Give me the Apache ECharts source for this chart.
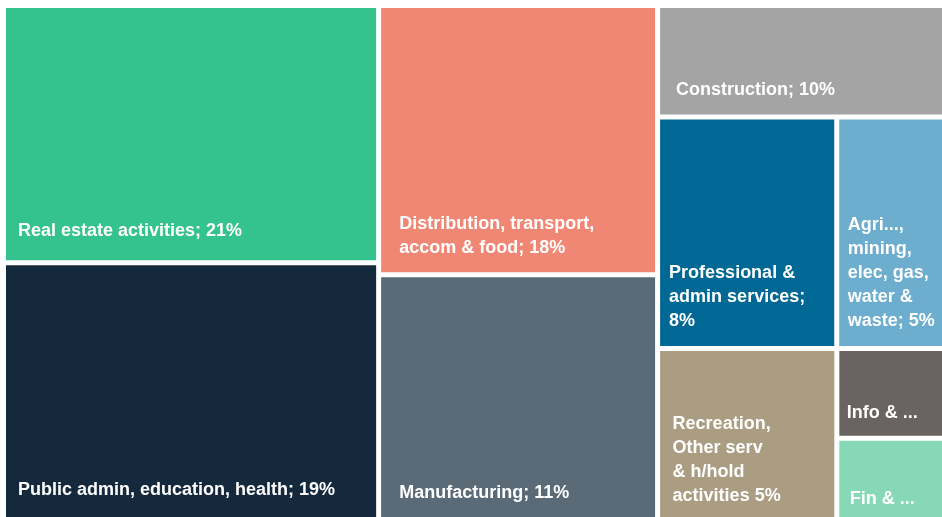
<!DOCTYPE html>
<html>
<head>
<meta charset="utf-8">
<script src="https://cdn.jsdelivr.net/npm/echarts@6/dist/echarts.min.js"></script>
<style>
  html, body { margin: 0; padding: 0; background: #ffffff; }
  #chart { width: 942px; height: 517px; }
</style>
</head>
<body>
<div id="chart"></div>
<script>
// ---- Data ----
const sectors = [
  'Real estate activities',
  'Public admin, education, health',
  'Distribution, transport, accom & food',
  'Manufacturing',
  'Construction',
  'Professional & admin services',
  'Agri..., mining, elec, gas, water & waste',
  'Recreation, Other serv & h/hold activities',
  'Info & ...',
  'Fin & ...'
];
// percentages printed in the labels
const shares = [21, 19, 18, 11, 10, 8, 5, 5, null, null];
// relative tile sizes (share of the drawn area, %)
const sizes = [19.89, 19.93, 15.48, 14.13, 6.62, 8.55, 5.19, 6.35, 2.01, 1.84];
// label text as printed ({v} = share)
const labelTexts = [
  'Real estate activities; {v}%',
  'Public admin, education, health; {v}%',
  'Distribution, transport,\naccom & food; {v}%',
  'Manufacturing; {v}%',
  'Construction; {v}%',
  'Professional &\nadmin services;\n{v}%',
  'Agri...,\nmining,\nelec, gas,\nwater &\nwaste; {v}%',
  'Recreation,\nOther serv\n& h/hold\nactivities {v}%',
  'Info & ...',
  'Fin & ...'
];
// tile grouping (block structure of the treemap), by sector index
const groups = [[0, 1], [2, 3], [4, [[5, 6], [7, 8, 9]]]];

// ---- Styles ----
const colors = ['#34C28F', '#15293D', '#F08774', '#5A6A77', '#A4A4A4',
                '#006895', '#6DADCE', '#AB9D82', '#696461', '#86D8B7'];
// label padding [top, right, bottom, left]
const labelPads = [
  [0, 4, 17.5, 12], [0, 4, 16, 12], [0, 4, 12, 18], [0, 4, 12.5, 18], [0, 4, 13, 16],
  [0, 4, 13, 9], [0, 2, 13, 8.5], [0, 4, 10, 12.5], [0, 2, 11.3, 7.5], [0, 2, 7, 10.5]
];

function leaf(i) {
  return {
    name: sectors[i],
    value: sizes[i],
    itemStyle: { color: colors[i] },
    label: {
      padding: labelPads[i],
      formatter: labelTexts[i].replace('{v}', shares[i])
    }
  };
}
function build(node) {
  if (typeof node === 'number') return leaf(node);
  return {
    name: '',
    children: node.map(build),
    itemStyle: { color: '#ffffff', borderColor: '#ffffff' },
    label: { show: false }
  };
}
const treeData = groups.map(build);

const chart = echarts.init(document.getElementById('chart'), null, { renderer: 'canvas' });
chart.setOption({
  animation: false,
  backgroundColor: '#ffffff',
  series: [{
    type: 'treemap',
    left: 6,
    top: 8,
    width: 937,
    height: 510,
    sort: false,
    squareRatio: 1,
    roam: false,
    nodeClick: false,
    drillDownIcon: '',
    breadcrumb: { show: false },
    leafDepth: null,
    visibleMin: 0,
    itemStyle: { gapWidth: 5, borderWidth: 0, borderColor: '#ffffff' },
    upperLabel: { show: false },
    label: {
      show: true,
      position: 'insideBottomLeft',
      distance: 0,
      align: 'left',
      verticalAlign: 'bottom',
      color: '#ffffff',
      fontFamily: 'Liberation Sans, Arial, Helvetica, sans-serif',
      fontWeight: 'bold',
      fontSize: 18,
      lineHeight: 24,
      overflow: 'none'
    },
    emphasis: { disabled: true },
    data: treeData
  }]
});
</script>
</body>
</html>
